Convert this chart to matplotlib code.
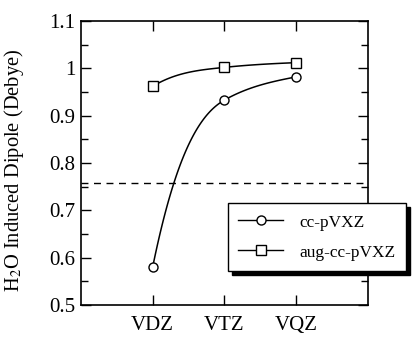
import numpy as np
import matplotlib.pyplot as plt
from matplotlib.ticker import MultipleLocator
from matplotlib.patches import Rectangle

plt.rcParams['font.family'] = ['Liberation Serif', 'DejaVu Serif']
plt.rcParams['mathtext.fontset'] = 'stix'

basis = ['VDZ', 'VTZ', 'VQZ']
cc_dipole = [0.581, 0.933, 0.982]
aug_dipole = [0.962, 1.002, 1.012]
reference_dipole = 0.757


# smooth monotone curve through the points (just for drawing the line)
def smooth_curve(x, y, end_factor, n=60):
    x = np.asarray(x, float)
    y = np.asarray(y, float)
    d = np.diff(y) / np.diff(x)
    m = np.zeros(len(x))
    for i in range(1, len(x) - 1):
        if d[i - 1] * d[i] > 0:
            m[i] = 2.0 / (1.0 / d[i - 1] + 1.0 / d[i])
    m[0] = end_factor * d[0]
    m[-1] = d[-1] * 0.6
    xs, ys = [], []
    for i in range(len(x) - 1):
        h = x[i + 1] - x[i]
        t = np.linspace(0, 1, n)
        h00 = 2 * t**3 - 3 * t**2 + 1
        h10 = t**3 - 2 * t**2 + t
        h01 = -2 * t**3 + 3 * t**2
        h11 = t**3 - t**2
        xs.append(x[i] + t * h)
        ys.append(h00 * y[i] + h10 * h * m[i] + h01 * y[i + 1] + h11 * h * m[i + 1])
    return np.concatenate(xs), np.concatenate(ys)


fig = plt.figure(figsize=(4.12, 3.37), dpi=100)
ax = fig.add_axes([0.1966, 0.095, 0.6966, 0.8427])

xpos = np.arange(1, len(basis) + 1)

sx, sy = smooth_curve(xpos, cc_dipole, 2.1)
ax.plot(sx, sy, color='black', lw=1.1)
ax.plot(xpos, cc_dipole, 'o', mfc='white', mec='black', ms=6.5, mew=1.0)

sx, sy = smooth_curve(xpos, aug_dipole, 2.3)
ax.plot(sx, sy, color='black', lw=1.1)
ax.plot(xpos, aug_dipole, 's', mfc='white', mec='black', ms=6.5, mew=1.0)

ax.axhline(reference_dipole, color='black', lw=1.0, ls=(0, (5, 4)))

# legend handles
h1, = ax.plot([], [], '-o', color='black', mfc='white', mec='black', ms=6.5, mew=1.0, lw=1.0)
h2, = ax.plot([], [], '-s', color='black', mfc='white', mec='black', ms=6.5, mew=1.0, lw=1.0)
leg = fig.legend([h1, h2], ['cc-pVXZ', 'aug-cc-pVXZ'], loc='upper left',
                 bbox_to_anchor=(228 / 412, 1 - 203 / 337), fontsize=12.4,
                 fancybox=False, edgecolor='black', framealpha=1,
                 handlelength=2.6, handletextpad=0.95, borderpad=0.6,
                 handleheight=1.0, labelspacing=0.7, borderaxespad=0)
leg.get_frame().set_linewidth(1.0)
leg.set_zorder(5)

ax.set_xlim(0, 4)
ax.set_ylim(0.5, 1.1)
ax.set_xticks(xpos)
ax.set_xticklabels(basis)
ax.yaxis.set_minor_locator(MultipleLocator(0.05))
ax.set_yticks([0.5, 0.6, 0.7, 0.8, 0.9, 1.0, 1.1])
ax.set_yticklabels(['0.5', '0.6', '0.7', '0.8', '0.9', '1', '1.1'])
ax.tick_params(axis='both', which='both', direction='in', top=True, right=True,
               labelsize=15, width=1.0)
ax.tick_params(axis='both', which='major', length=7)
ax.tick_params(axis='y', which='minor', length=5)
ax.tick_params(axis='y', which='major', pad=4)
ax.tick_params(axis='x', which='major', pad=8)
for s in ax.spines.values():
    s.set_linewidth(1.2)

ax.set_ylabel(r'H$_2$O Induced Dipole (Debye)', fontsize=14.8)
ax.yaxis.set_label_coords(-0.19, 0.475)

# black drop shadow behind the legend box
fig.canvas.draw()
bb = leg.get_frame().get_window_extent().transformed(fig.transFigure.inverted())
off_x, off_y = 4 / 412, 4 / 337
fig.patches.append(Rectangle((bb.x0 + off_x, bb.y0 - off_y), bb.width, bb.height,
                             transform=fig.transFigure, color='black', zorder=4))

fig.savefig('out.png', dpi=100)
